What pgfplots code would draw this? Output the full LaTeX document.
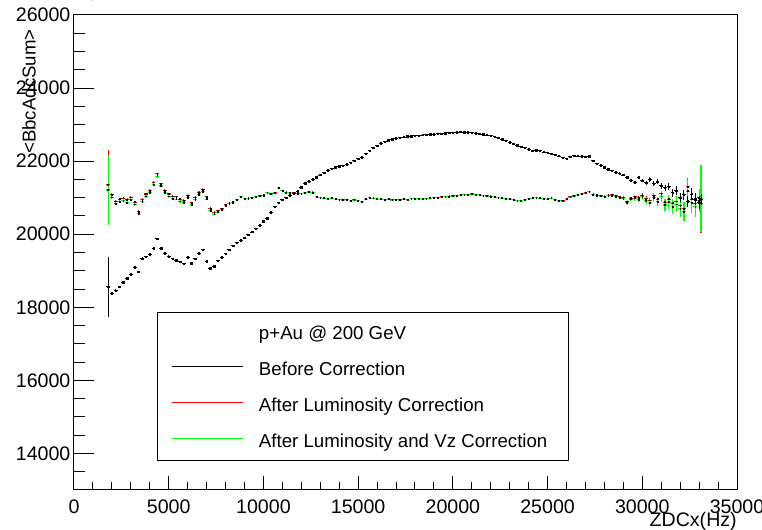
\documentclass[border=0pt]{standalone}
\usepackage{fontspec}
\setmainfont{Liberation Sans}
\usepackage{pgfplots}
\usepackage{pgfplotstable}
\pgfplotsset{compat=1.18}
\definecolor{rootred}{RGB}{255,0,0}
\definecolor{rootgreen}{RGB}{0,255,0}

% <BbcAdcSum> profiles vs ZDC coincidence rate (200 Hz bins)
% bk: before correction, rd: after luminosity correction,
% gr: after luminosity and Vz correction; *e columns are errors
\pgfplotstableread{
x bk bke rd rde gr gre
1800 18560 821 21350 956 21210 958
2000 18380 40 21080 50 21010 55
2200 18450 40 20900 45 20840 50
2400 18560 35 20960 45 20890 45
2600 18680 35 20990 40 20920 45
2800 18790 35 20940 40 20870 45
3000 18900 35 21010 40 20950 40
3200 19100 35 20880 40 20820 40
3400 18970 35 20620 40 20560 40
3600 19330 35 20950 40 20890 40
3800 19380 30 21100 40 21040 40
4000 19450 30 21200 35 21140 40
4200 19620 30 21420 35 21360 40
4400 19880 30 21650 35 21590 40
4600 19620 30 21380 35 21320 35
4800 19480 30 21200 35 21140 35
5000 19390 30 21100 35 21040 35
5200 19330 30 21040 35 20980 35
5400 19290 30 21020 35 20960 35
5600 19240 30 20960 35 20900 35
5800 19190 30 20920 35 20860 35
6000 19370 30 21060 35 21000 35
6200 19210 30 20860 35 20800 35
6400 19330 30 21000 35 20940 35
6600 19480 30 21140 35 21080 35
6800 19570 30 21220 35 21160 35
7000 19260 30 21020 35 20960 35
7200 19070 30 20700 35 20640 35
7400 19120 30 20600 35 20550 35
7600 19270 25 20640 30 20600 30
7800 19370 25 20700 30 20670 30
8000 19470 25 20800 25 20780 25
8200 19570 25 20850 25 20830 25
8400 19690 20 20880 25 20860 25
8600 19760 20 20950 20 20940 20
8800 19840 20 21030 20 21020 20
9000 19910 20 20980 20 20970 20
9200 19980 20 20990 20 20980 20
9400 20060 20 21010 20 21000 20
9600 20150 20 21030 20 21020 20
9800 20250 20 21050 20 21040 20
10000 20350 20 21070 20 21060 20
10200 20440 20 21140 20 21130 20
10400 20600 20 21100 20 21095 20
10600 20750 20 21130 20 21125 20
10800 20860 20 21280 20 21270 20
11000 20950 20 21200 20 21195 20
11200 21000 20 21150 20 21145 20
11400 21060 20 21140 20 21135 20
11600 21120 20 21130 20 21125 20
11800 21180 20 21120 20 21115 20
12000 21280 20 21110 20 21105 20
12200 21390 20 21140 20 21135 20
12400 21450 20 21160 20 21155 20
12600 21500 20 21150 20 21145 20
12800 21560 20 21030 20 21025 20
13000 21620 20 21000 20 20995 20
13200 21680 20 20990 20 20985 20
13400 21750 20 20980 20 20975 20
13600 21790 20 20990 20 20985 20
13800 21830 20 20960 20 20955 20
14000 21860 20 20950 20 20945 20
14200 21880 20 20940 20 20935 20
14400 21910 20 20950 20 20945 20
14600 21960 20 20930 20 20925 20
14800 22010 20 20940 20 20935 20
15000 22060 20 20920 20 20915 20
15200 22110 20 20900 20 20895 20
15400 22200 20 20960 20 20955 20
15600 22290 20 21010 20 21005 20
15800 22360 20 20990 20 20985 20
16000 22420 20 20970 20 20965 20
16200 22490 20 20960 20 20955 20
16400 22530 20 20950 20 20945 20
16600 22570 20 20960 20 20955 20
16800 22600 20 20940 20 20935 20
17000 22625 20 20950 20 20945 20
17200 22640 20 20940 20 20935 20
17400 22660 20 20960 20 20955 20
17600 22675 20 20950 20 20945 20
17800 22680 20 20970 20 20965 20
18000 22695 20 20980 20 20975 20
18200 22700 20 20970 20 20965 20
18400 22715 20 20960 20 20955 20
18600 22720 20 20980 20 20975 20
18800 22735 20 20990 20 20985 20
19000 22740 20 21010 20 21005 20
19200 22750 20 21000 20 20995 20
19400 22755 20 21020 20 21015 20
19600 22765 20 21030 20 21025 20
19800 22775 20 21040 20 21035 20
20000 22780 20 21050 20 21045 20
20200 22790 20 21060 20 21055 20
20400 22800 20 21080 20 21075 20
20600 22785 20 21090 20 21085 20
20800 22790 20 21080 20 21075 20
21000 22775 20 21100 20 21095 20
21200 22765 20 21090 20 21085 20
21400 22750 20 21080 20 21075 20
21600 22735 20 21060 20 21055 20
21800 22715 20 21050 20 21045 20
22000 22695 20 21040 20 21035 20
22200 22670 20 21030 20 21025 20
22400 22640 20 21010 20 21005 20
22600 22600 20 20990 20 20985 20
22800 22560 20 20980 20 20975 20
23000 22520 20 20960 20 20955 20
23200 22480 20 20950 20 20945 20
23400 22440 20 20930 20 20925 20
23600 22400 20 20920 20 20915 20
23800 22360 20 20950 20 20945 20
24000 22330 20 20980 20 20975 20
24200 22290 20 20990 20 20985 20
24400 22300 20 21010 20 21005 20
24600 22280 20 20990 20 20985 20
24800 22250 20 20980 20 20975 20
25000 22230 20 20960 20 20955 20
25200 22200 20 20990 20 20985 20
25400 22170 20 20950 20 20945 20
25600 22140 20 20920 20 20915 20
25800 22090 20 20910 20 20905 20
26000 22070 20 20960 20 20955 20
26200 22120 20 21020 20 21015 20
26400 22150 20 21050 20 21045 20
26600 22140 20 21080 20 21075 20
26800 22130 20 21110 20 21105 20
27000 22120 25 21130 25 21125 25
27200 22130 25 21170 25 21160 30
27400 22010 25 21090 25 21080 30
27600 21930 25 21070 25 21060 30
27800 21890 25 21050 25 21040 30
28000 21830 30 21040 30 21025 35
28200 21780 30 21070 30 21055 35
28400 21740 30 21080 30 21060 35
28600 21690 30 21050 30 21030 40
28800 21660 35 21020 35 21000 45
29000 21620 35 21000 35 20975 50
29200 21560 40 20900 40 20870 60
29400 21480 40 20990 40 20960 60
29600 21420 45 21030 45 20990 70
29800 21560 45 21000 45 20950 80
30000 21470 50 21070 50 21020 90
30200 21410 55 20980 55 20920 100
30400 21500 60 20930 60 20860 110
30600 21380 65 21060 65 21000 120
30800 21440 70 20960 70 20890 130
31000 21320 80 21110 80 21040 150
31200 21270 90 20880 90 20800 170
31400 21300 100 20960 100 20880 180
31600 21140 110 20850 110 20760 200
31800 21190 120 20900 120 20820 220
32000 21000 130 20780 130 20700 240
32200 21080 140 20700 150 20620 260
32400 20900 150 21300 250 21180 320
32600 21100 160 20960 180 20870 280
32800 20960 170 20850 200 20760 300
33000 20860 180 21000 230 20920 320
33100 20950 150 20850 830 20980 910
}\profiles

\begin{document}
\begin{tikzpicture}
\begin{axis}[
  name=main,
  scale only axis, width=497.25pt, height=356.25pt,
  xmin=0, xmax=35000, ymin=13000, ymax=26000,
  axis line style={line width=0.75pt},
  tick align=inside, tick pos=left,
  xtick={0,5000,...,35000}, minor xtick={1000,2000,...,34000},
  ytick={14000,16000,...,26000}, minor ytick={13500,14000,...,25500},
  scaled ticks=false,
  /pgf/number format/1000 sep={},
  /pgf/number format/assume math mode=true,
  tick label style={font=\fontsize{14.7}{17}\selectfont},
  major tick length=10.5pt, minor tick length=6pt,
  xtick style={line width=0.75pt, black},
  ytick style={draw=none},
  xticklabel style={inner sep=0pt, yshift=-7.5pt},
  yticklabel style={inner sep=0pt, xshift=-2.5pt},
  xlabel={ZDCx(Hz)}, ylabel={<BbcAdcSum>},
  xlabel style={at={(axis description cs:1,-0.067)}, anchor=east, inner sep=0pt,
    font=\fontsize{14.7}{17}\selectfont},
  ylabel style={at={(axis description cs:-0.0679,0.9705)}, anchor=east, inner sep=0pt,
    font=\fontsize{14}{17}\selectfont},
  legend style={at={(axis description cs:0.1478,0.3459)}, anchor=north west,
    draw=none, fill=none, inner sep=0pt, outer sep=0pt,
    row sep=13pt, column sep=11.25pt,
    font=\fontsize{14}{16}\selectfont,
    nodes={inner sep=0pt, text height=10.5pt, text depth=3.5pt}},
  legend cell align=left,
  legend image code/.code={\draw[#1] (0pt,3.5pt) -- (53.25pt,3.5pt);},
]
% after luminosity correction
\addplot[forget plot, only marks, mark=square*, mark size=0.3pt, mark options={black},
  error bars/.cd, x dir=both, x fixed=100, y dir=both, y explicit, error mark=none,
  error bar style={rootred, line width=0.8pt}]
  table[x=x, y=rd, y error=rde] {\profiles};
% after luminosity and Vz correction
\addplot[forget plot, only marks, mark=square*, mark size=0.3pt, mark options={black},
  error bars/.cd, x dir=both, x fixed=100, y dir=both, y explicit, error mark=none,
  error bar style={rootgreen, line width=0.8pt}]
  table[x=x, y=gr, y error=gre] {\profiles};
% before correction
\addplot[forget plot, only marks, mark=square*, mark size=0.55pt, mark options={black},
  error bars/.cd, x dir=both, x fixed=100, y dir=both, y explicit, error mark=none,
  error bar style={black, line width=0.75pt}]
  table[x=x, y=bk, y error=bke] {\profiles};

\filldraw[fill=white, draw=black, line width=0.75pt]
  (axis description cs:0.1252,0.0611) rectangle (axis description cs:0.7466,0.3747);

\addlegendimage{empty legend}
\addlegendentry{p+Au @ 200 GeV}
\addlegendimage{black, line width=0.75pt}
\addlegendentry{Before Correction}
\addlegendimage{rootred, line width=0.75pt}
\addlegendentry{After Luminosity Correction}
\addlegendimage{rootgreen, line width=0.75pt}
\addlegendentry{After Luminosity and Vz Correction}
\end{axis}

% y ticks, longer than the x ticks
\begin{axis}[
  at={(main.south west)}, anchor=south west,
  scale only axis, width=497.25pt, height=356.25pt,
  xmin=0, xmax=35000, ymin=13000, ymax=26000,
  axis line style={draw=none},
  tick align=inside, tick pos=left,
  xtick=\empty,
  ytick={14000,16000,...,26000}, minor ytick={13500,14000,...,25500},
  yticklabels={},
  major tick length=15pt, minor tick length=8.25pt,
  ytick style={line width=0.75pt, black},
]
\end{axis}

\pgfresetboundingbox
\path[use as bounding box] ([shift={(-55.5pt,-30pt)}]main.south west)
  rectangle ([shift={(18.75pt,11.25pt)}]main.north east);
\end{tikzpicture}
\end{document}
